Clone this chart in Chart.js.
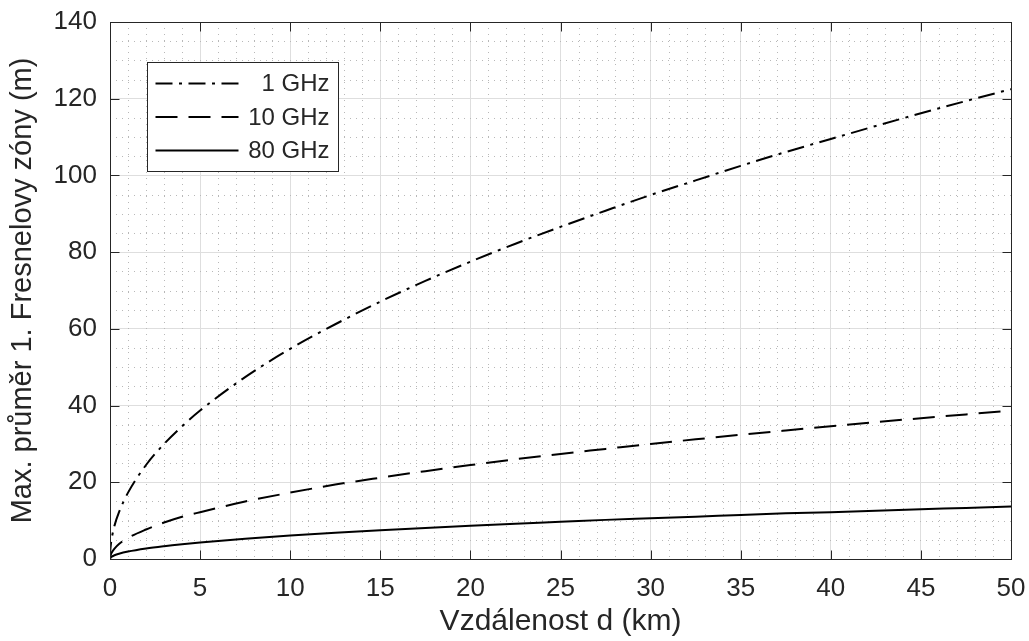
<!DOCTYPE html>
<html>
<head>
<meta charset="utf-8">
<script src="https://cdn.jsdelivr.net/npm/chart.js@4/dist/chart.umd.min.js"></script>
<style>
  body { margin: 0; background: #fff; }
  #wrap { width: 1029px; height: 641px; }
</style>
</head>
<body>
<div id="wrap"><canvas id="myChart" width="1029" height="641"></canvas></div>
<script>
// distance along the link (km)
var distKm = [0, 0.02, 0.05, 0.1, 0.25, 0.5, 1, 2, 3, 4, 5, 7.5, 10, 12.5, 15, 17.5, 20,
              22.5, 25, 27.5, 30, 32.5, 35, 37.5, 40, 42.5, 45, 47.5, 50];

// max diameter of the 1st Fresnel zone (m)
var zone1GHz = [0, 2.4, 3.9, 5.5, 8.7, 12.2, 17.3, 24.5, 30.0, 34.6, 38.7, 47.4, 54.8, 61.2,
                67.1, 72.5, 77.5, 82.2, 86.6, 90.8, 94.9, 98.7, 102.5, 106.1, 109.5, 112.9,
                116.2, 119.4, 122.5];
var zone10GHz = [0, 0.77, 1.2, 1.7, 2.7, 3.9, 5.5, 7.7, 9.5, 11.0, 12.2, 15.0, 17.3, 19.4,
                 21.2, 22.9, 24.5, 26.0, 27.4, 28.7, 30.0, 31.2, 32.4, 33.5, 34.6, 35.7,
                 36.7, 37.7, 38.7];
var zone80GHz = [0, 0.27, 0.43, 0.61, 0.97, 1.37, 1.94, 2.74, 3.35, 3.87, 4.33, 5.30, 6.12,
                 6.85, 7.50, 8.10, 8.66, 9.19, 9.68, 10.2, 10.6, 11.0, 11.5, 11.9, 12.2,
                 12.6, 13.0, 13.3, 13.7];

var seriesNames = ['1 GHz', '10 GHz', '80 GHz'];
var xTicks = [0, 5, 10, 15, 20, 25, 30, 35, 40, 45, 50];
var yTicks = [0, 20, 40, 60, 80, 100, 120, 140];

var axisColor = '#262626';
var fontFam = '"Liberation Sans", Arial, Helvetica, sans-serif';

function toPoints(vals) {
    var pts = [];
    for (var i = 0; i < distKm.length; i++) {
        pts.push({x: distKm[i], y: vals[i]});
    }
    return pts;
}

// no extra room for edge labels, layout padding decides the plot box
function fixScale(s) {
    s.paddingTop = 0;
    s.paddingBottom = 0;
    s.paddingLeft = 0;
    s.paddingRight = 0;
}

// dotted minor grid, box and inward ticks like matlab axes
var matlabAxes = {
    id: 'matlabAxes',
    beforeDatasetsDraw: function(chart) {
        var ctx = chart.ctx, a = chart.chartArea;
        var xs = chart.scales.x, ys = chart.scales.y;
        ctx.save();
        ctx.strokeStyle = '#b8b8b8';
        ctx.lineWidth = 1;
        ctx.setLineDash([1, 5]);
        ctx.beginPath();
        for (var v = 1; v < 50; v++) {
            if (v % 5 == 0) continue;
            var px = Math.round(xs.getPixelForValue(v)) + 0.5;
            ctx.moveTo(px, a.top);
            ctx.lineTo(px, a.bottom);
        }
        for (var w = 5; w < 140; w += 5) {
            if (w % 20 == 0) continue;
            var py = Math.round(ys.getPixelForValue(w)) + 0.5;
            ctx.moveTo(a.left, py);
            ctx.lineTo(a.right, py);
        }
        ctx.stroke();
        ctx.restore();
    },
    afterDatasetsDraw: function(chart) {
        var ctx = chart.ctx, a = chart.chartArea;
        var xs = chart.scales.x, ys = chart.scales.y;
        var L = Math.round(a.left) + 0.5, R = Math.round(a.right) + 0.5;
        var T = Math.round(a.top) + 0.5, B = Math.round(a.bottom) + 0.5;
        var tl = 9;
        ctx.save();
        ctx.strokeStyle = axisColor;
        ctx.lineWidth = 1;
        ctx.setLineDash([]);
        ctx.strokeRect(L, T, R - L, B - T);
        ctx.beginPath();
        xTicks.forEach(function(v) {
            var px = Math.round(xs.getPixelForValue(v)) + 0.5;
            ctx.moveTo(px, B); ctx.lineTo(px, B - tl);
            ctx.moveTo(px, T); ctx.lineTo(px, T + tl);
        });
        yTicks.forEach(function(v) {
            var py = Math.round(ys.getPixelForValue(v)) + 0.5;
            ctx.moveTo(L, py); ctx.lineTo(L + tl, py);
            ctx.moveTo(R, py); ctx.lineTo(R - tl, py);
        });
        ctx.stroke();
        ctx.restore();
    },
    afterDraw: function(chart) {
        // legend box in the upper left corner of the axes
        var ctx = chart.ctx, a = chart.chartArea;
        var bx = Math.round(a.left) + 37.5, by = Math.round(a.top) + 40.5;
        var bw = 191, bh = 109;
        ctx.save();
        ctx.fillStyle = '#fff';
        ctx.fillRect(bx, by, bw, bh);
        ctx.strokeStyle = axisColor;
        ctx.lineWidth = 1;
        ctx.strokeRect(bx, by, bw, bh);
        ctx.font = '24px ' + fontFam;
        ctx.textAlign = 'right';
        ctx.textBaseline = 'middle';
        chart.data.datasets.forEach(function(ds, i) {
            var ry = by + 21 + i * 33.5;
            ctx.strokeStyle = ds.borderColor;
            ctx.lineWidth = ds.borderWidth;
            ctx.setLineDash(ds.borderDash || []);
            ctx.beginPath();
            ctx.moveTo(bx + 8, ry);
            ctx.lineTo(bx + 91, ry);
            ctx.stroke();
            ctx.fillStyle = axisColor;
            ctx.fillText(ds.label, bx + 182, ry + 1);
        });
        ctx.restore();
    }
};

var lineBase = {
    borderColor: '#000',
    borderWidth: 2,
    pointRadius: 0,
    fill: false,
    cubicInterpolationMode: 'monotone'
};

var myChart = new Chart('myChart', {
    type: 'line',
    data: {
        datasets: [
            Object.assign({label: seriesNames[0], data: toPoints(zone1GHz), borderDash: [17, 6.5, 3, 6.5]}, lineBase),
            Object.assign({label: seriesNames[1], data: toPoints(zone10GHz), borderDash: [22, 11]}, lineBase),
            Object.assign({label: seriesNames[2], data: toPoints(zone80GHz), borderDash: []}, lineBase)
        ]
    },
    options: {
        responsive: false,
        animation: false,
        devicePixelRatio: 1,
        layout: {padding: {top: 22, right: 18, left: 0, bottom: 0}},
        plugins: {legend: {display: false}, tooltip: {enabled: false}},
        scales: {
            x: {
                type: 'linear',
                min: 0, max: 50,
                afterBuildTicks: function(s) { s.ticks = xTicks.map(function(v) { return {value: v}; }); },
                afterFit: function(s) { s.height = 82; fixScale(s); },
                grid: {color: '#dedede', lineWidth: 1, drawTicks: false},
                border: {display: false},
                ticks: {color: axisColor, font: {family: fontFam, size: 26}, padding: 14, maxRotation: 0},
                title: {display: true, text: 'Vzdálenost d (km)', color: axisColor,
                        font: {family: fontFam, size: 30, lineHeight: 1}, padding: {top: 0, bottom: 4}}
            },
            y: {
                min: 0, max: 140,
                afterBuildTicks: function(s) { s.ticks = yTicks.map(function(v) { return {value: v}; }); },
                afterFit: function(s) { s.width = 110; fixScale(s); },
                grid: {color: '#dedede', lineWidth: 1, drawTicks: false},
                border: {display: false},
                ticks: {color: axisColor, font: {family: fontFam, size: 26}, padding: 13},
                title: {display: true, text: 'Max. průměr 1. Fresnelovy zóny (m)', color: axisColor,
                        font: {family: fontFam, size: 29, lineHeight: 1}, padding: {top: 8, bottom: 0}}
            }
        }
    },
    plugins: [matlabAxes]
});
</script>
</body>
</html>
